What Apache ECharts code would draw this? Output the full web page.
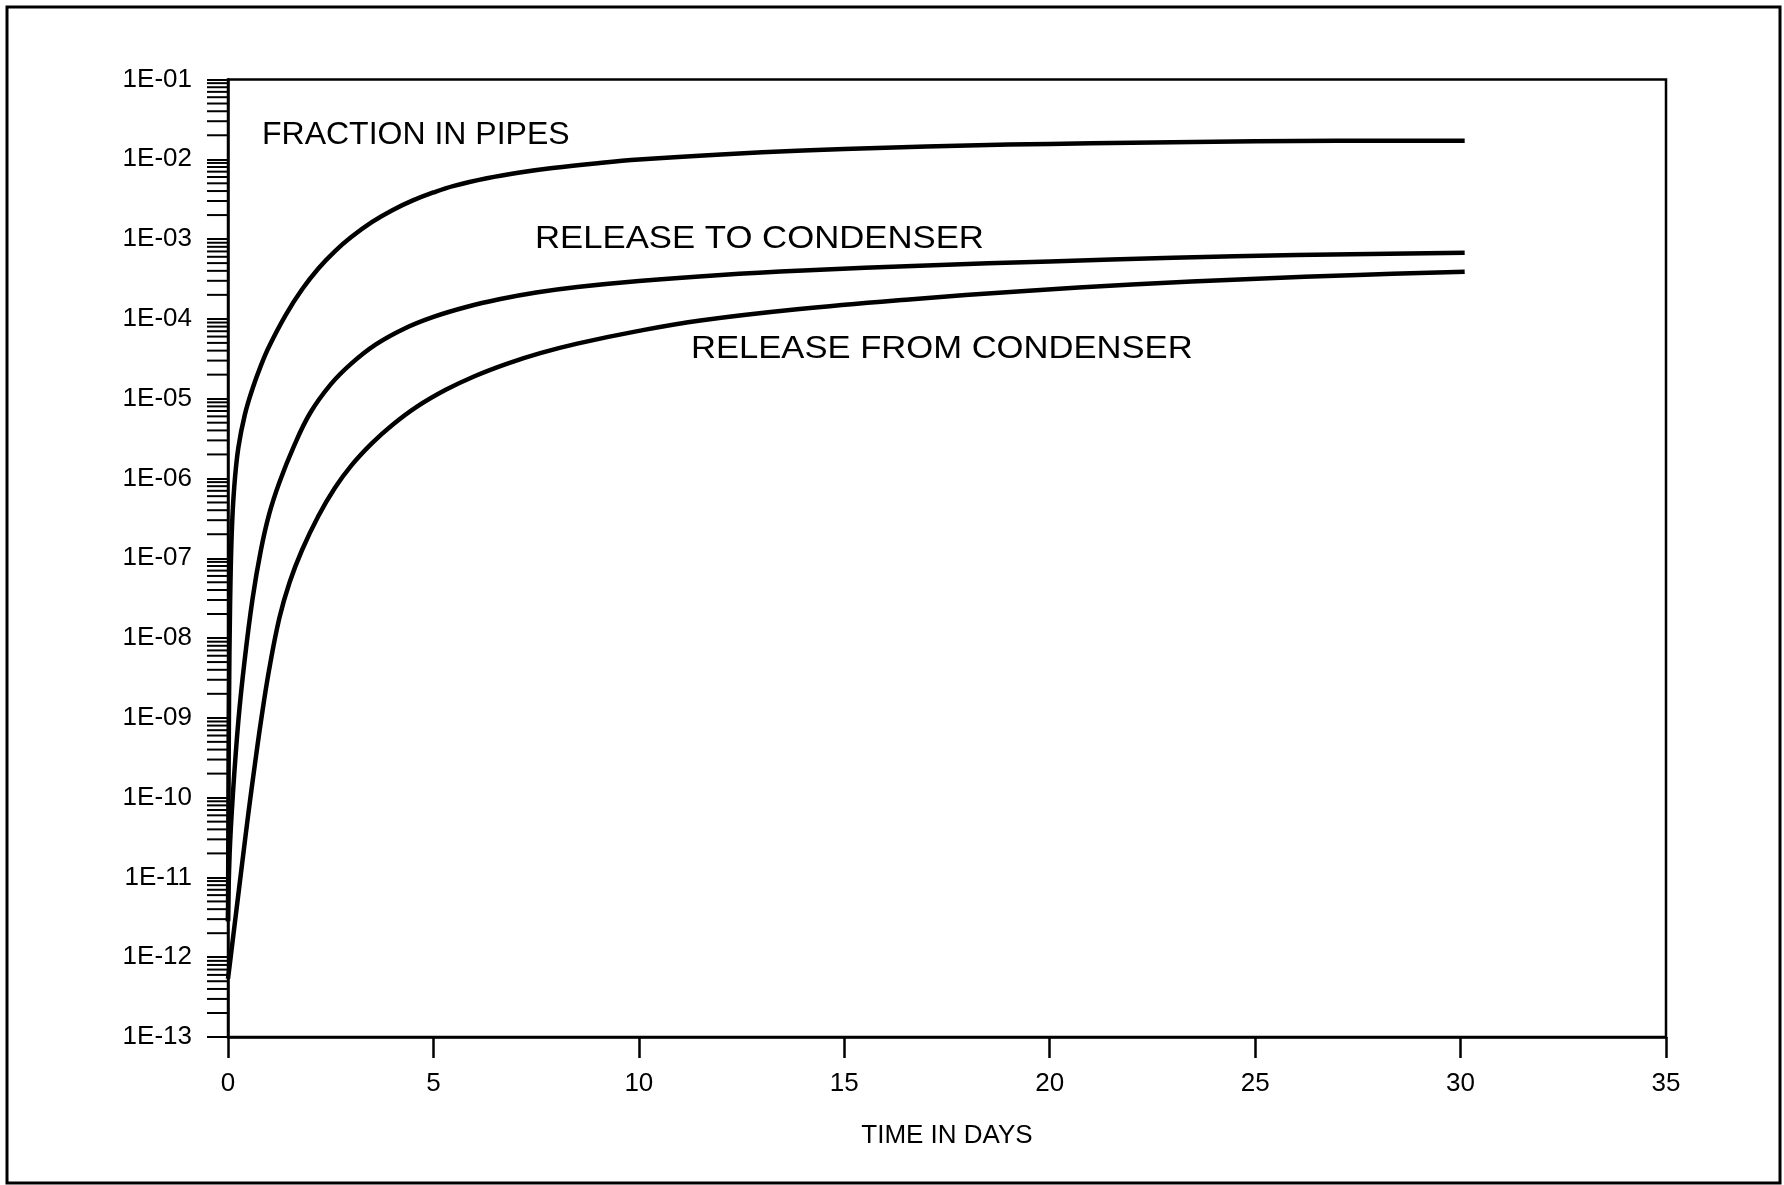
<!DOCTYPE html>
<html>
<head>
<meta charset="utf-8">
<style>
html,body{margin:0;padding:0;background:#fff;}
#chart{width:1784px;height:1185px;}
</style>
<script src="https://cdn.jsdelivr.net/npm/echarts@6/dist/echarts.min.js"></script>
</head>
<body>
<div id="chart"></div>
<script>
// ---- data ----
const pipesDays = [0, 0.01, 0.025, 0.05, 0.09, 0.15, 0.25, 0.41, 0.6, 0.8, 1.0, 1.4, 1.8, 2.2, 2.6, 3.0, 3.5, 4.0, 4.5, 5.0, 5.5, 6.3, 7.1, 7.9, 9, 10, 12, 14, 16, 18, 20, 22, 24, 26, 28, 30.1];
const pipesValues = [2.82e-12, 5.01e-11, 1.58e-9, 2.51e-8, 2.0e-7, 7.59e-7, 2.40e-6, 6.31e-6, 1.35e-5, 2.60e-5, 4.52e-5, 1.11e-4, 2.33e-4, 4.28e-4, 7.03e-4, 1.06e-3, 1.63e-3, 2.30e-3, 3.05e-3, 3.84e-3, 4.65e-3, 5.79e-3, 6.84e-3, 7.78e-3, 8.93e-3, 9.91e-3, 1.15e-2, 1.29e-2, 1.40e-2, 1.49e-2, 1.56e-2, 1.61e-2, 1.66e-2, 1.69e-2, 1.71e-2, 1.71e-2];

const toCondDays = [0, 0.04, 0.12, 0.25, 0.4, 0.6, 0.8, 1.0, 1.25, 1.6, 2.0, 2.5, 3.0, 3.6, 4.3, 5.0, 5.8, 6.6, 7.5, 8.5, 10, 12, 14, 17, 20, 23, 26, 30.1];
const toCondValues = [2.82e-12, 2.0e-11, 1.12e-10, 8.91e-10, 5.01e-9, 3.16e-8, 1.26e-7, 3.55e-7, 8.91e-7, 2.51e-6, 6.61e-6, 1.51e-5, 2.75e-5, 4.79e-5, 7.59e-5, 1.06e-4, 1.41e-4, 1.76e-4, 2.14e-4, 2.51e-4, 2.99e-4, 3.55e-4, 4.03e-4, 4.68e-4, 5.25e-4, 5.82e-4, 6.31e-4, 6.76e-4];

const fromCondDays = [0, 0.1, 0.2, 0.35, 0.5, 0.65, 0.8, 1.0, 1.25, 1.5, 1.8, 2.2, 2.6, 3.0, 3.5, 4.0, 4.6, 5.3, 6.0, 6.8, 7.6, 8.5, 10, 11.5, 13.85, 16.5, 19.4, 22, 24.9, 27.5, 30.1];
const fromCondValues = [5.37e-13, 1.41e-12, 3.72e-12, 1.58e-11, 6.61e-11, 2.51e-10, 8.91e-10, 3.98e-9, 1.78e-8, 5.01e-8, 1.26e-7, 3.39e-7, 7.59e-7, 1.45e-6, 2.75e-6, 4.68e-6, 7.94e-6, 1.29e-5, 1.91e-5, 2.75e-5, 3.72e-5, 4.90e-5, 7.08e-5, 9.55e-5, 1.32e-4, 1.74e-4, 2.24e-4, 2.69e-4, 3.16e-4, 3.55e-4, 3.89e-4];

const seriesNames = ['FRACTION IN PIPES', 'RELEASE TO CONDENSER', 'RELEASE FROM CONDENSER'];
const xTicks = [0, 5, 10, 15, 20, 25, 30, 35];
const yDecades = [-13, -12, -11, -10, -9, -8, -7, -6, -5, -4, -3, -2, -1];
const minorMultipliers = [2, 3, 4, 5, 6, 7, 8, 9];

// minor tick positions of the log axis (2..9 within each decade)
const minorTickValues = [];
yDecades.slice(0, -1).forEach(function (e) {
  minorMultipliers.forEach(function (m) { minorTickValues.push(m * Math.pow(10, e)); });
});

function zip(xs, ys) { return xs.map(function (x, i) { return [x, ys[i]]; }); }

const FONT = '"Liberation Sans", Arial, Helvetica, sans-serif';
const chart = echarts.init(document.getElementById('chart'), null, {renderer: 'canvas'});

const lineStyle = {color: '#000', width: 4.5, cap: 'butt', join: 'round'};

chart.setOption({
  backgroundColor: '#fff',
  animation: false,
  grid: {
    left: 228, right: 118, top: 79.5, bottom: 148,
    containLabel: false, outerBoundsMode: 'none',
    show: true, borderColor: '#000', borderWidth: 2.5, backgroundColor: 'transparent'
  },
  xAxis: {
    type: 'value', min: xTicks[0], max: xTicks[xTicks.length - 1], interval: 5,
    name: 'TIME IN DAYS', nameLocation: 'middle', nameGap: 86,
    nameTextStyle: {color: '#000', fontFamily: FONT, fontSize: 26},
    axisLine: {show: true, lineStyle: {color: '#000', width: 2.5}},
    axisTick: {show: true, inside: false, length: 21, lineStyle: {color: '#000', width: 2.5}},
    axisLabel: {color: '#000', fontFamily: FONT, fontSize: 26, margin: 34},
    splitLine: {show: false}
  },
  yAxis: {
    type: 'log', logBase: 10, min: 1e-13, max: 1e-1, interval: 1,
    axisLine: {show: true, lineStyle: {color: '#000', width: 2.5}},
    axisTick: {show: true, inside: false, length: 21, lineStyle: {color: '#000', width: 2}},
    axisLabel: {
      color: '#000', fontFamily: FONT, fontSize: 26, margin: 36,
      formatter: function (v) {
        const e = Math.round(Math.log10(v));
        return '1E-' + String(-e).padStart(2, '0');
      }
    },
    splitLine: {show: false},
    minorTick: {show: false}
  },
  graphic: [
    {type: 'rect', shape: {x: 7, y: 7, width: 1773, height: 1176}, style: {fill: 'none', stroke: '#000', lineWidth: 3}, z: 100},
    {type: 'text', left: 262, top: 119, style: {text: seriesNames[0], font: '32px ' + FONT, fill: '#000'}},
    {type: 'text', left: 535, top: 223, scaleX: 1.085, style: {text: seriesNames[1], font: '32px ' + FONT, fill: '#000'}},
    {type: 'text', left: 691, top: 333, scaleX: 1.081, style: {text: seriesNames[2], font: '32px ' + FONT, fill: '#000'}}
  ],
  series: [
    {
      type: 'custom', name: 'minorTicks', silent: true, clip: false, z: 1,
      data: minorTickValues.map(function (v) { return [xTicks[0], v]; }),
      encode: {x: 0, y: 1},
      renderItem: function (params, api) {
        const p = api.coord([api.value(0), api.value(1)]);
        return {type: 'line', shape: {x1: p[0] - 21, y1: p[1], x2: p[0], y2: p[1]}, style: {stroke: '#000', lineWidth: 2}};
      }
    },
    {type: 'line', name: seriesNames[0], data: zip(pipesDays, pipesValues), showSymbol: false, smooth: 0.4, lineStyle: lineStyle, clip: false, z: 3},
    {type: 'line', name: seriesNames[1], data: zip(toCondDays, toCondValues), showSymbol: false, smooth: 0.4, lineStyle: lineStyle, clip: false, z: 3},
    {type: 'line', name: seriesNames[2], data: zip(fromCondDays, fromCondValues), showSymbol: false, smooth: 0.4, lineStyle: lineStyle, clip: false, z: 3}
  ]
});
</script>
</body>
</html>
